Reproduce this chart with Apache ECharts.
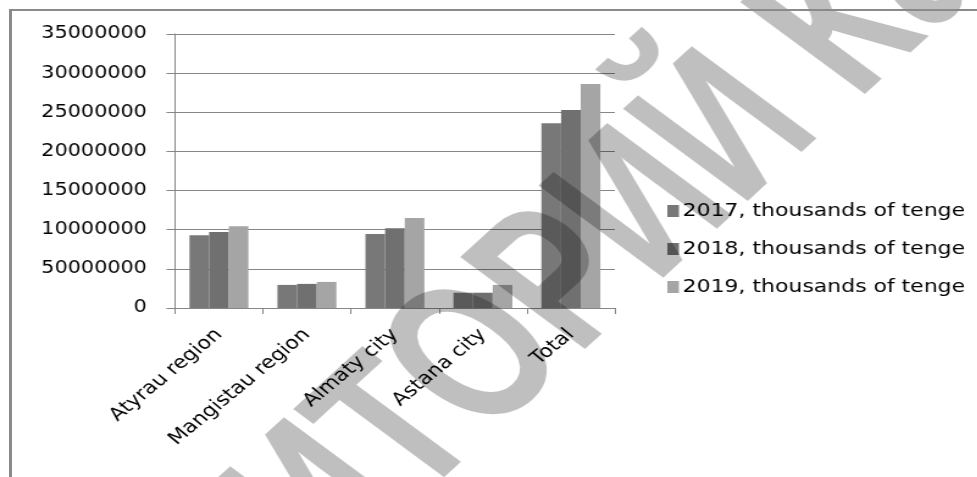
<!DOCTYPE html>
<html>
<head>
<meta charset="utf-8">
<script src="https://cdn.jsdelivr.net/npm/echarts@6/dist/echarts.min.js"></script>
<style>
  html, body { margin: 0; padding: 0; background: #ffffff; overflow: hidden; }
  #wrap { position: relative; width: 977px; height: 477px; overflow: hidden; }
  #chart { position: absolute; left: 0; top: 0; width: 801px; height: 477px; transform: scaleX(1.22); transform-origin: 0 0; }
  #overlay { position: absolute; left: 0; top: 0; width: 977px; height: 477px; pointer-events: none; }
</style>
</head>
<body>
<div id="wrap">
  <div id="chart"></div>
  <div id="overlay"></div>
</div>
<script>
// ---- data ----
const categories = ["Atyrau region", "Mangistau region", "Almaty city", "Astana city", "Total"];
const seriesNames = ["2017, thousands of tenge", "2018, thousands of tenge", "2019, thousands of tenge"];
const values2017 = [9300000, 2950000, 9450000, 1950000, 23600000];
const values2018 = [9700000, 3080000, 10200000, 1950000, 25300000];
const values2019 = [10450000, 3330000, 11500000, 2950000, 28600000];
const yTickValues = [0, 5000000, 10000000, 15000000, 20000000, 25000000, 30000000, 35000000];
// tick labels exactly as printed in the source (including its "50000000")
const yTickLabels = ["0", "50000000", "10000000", "15000000", "20000000", "25000000", "30000000", "35000000"];
const watermarkText = "РЕПОЗИТОРИЙ КазНУ";

const colors = ["#787878", "#707070", "#a5a5a5"];
const gridColor = "#868686";
const FONT = "DejaVu Sans";

const chart = echarts.init(document.getElementById('chart'), null, { renderer: 'canvas' });
const seriesData = [values2017, values2018, values2019];

chart.setOption({
  animation: false,
  backgroundColor: 'transparent',
  grid: { left: 143.4, right: 297, top: 34, bottom: 169, containLabel: false },
  legend: {
    orient: 'vertical',
    left: 542,
    top: 197,
    itemWidth: 9.5,
    itemHeight: 12,
    itemGap: 20,
    icon: 'rect',
    textStyle: { fontFamily: FONT, fontSize: 18, color: '#000', padding: [0, 0, 0, -2] },
    data: seriesNames
  },
  xAxis: {
    type: 'category',
    data: categories,
    axisLine: { show: false },
    axisTick: { show: true, length: 6, lineStyle: { color: gridColor } },
    axisLabel: {
      rotate: 45, margin: 24, interval: 0,
      fontFamily: FONT, fontSize: 18, color: '#000'
    },
    splitLine: { show: false }
  },
  yAxis: {
    type: 'value',
    min: yTickValues[0], max: yTickValues[yTickValues.length - 1],
    interval: yTickValues[1] - yTickValues[0],
    axisLine: { show: true, lineStyle: { color: gridColor } },
    axisTick: { show: true, length: 7, lineStyle: { color: gridColor } },
    axisLabel: {
      margin: 23, fontFamily: FONT, fontSize: 17, color: '#000',
      formatter: function (v) {
        const i = yTickValues.indexOf(v);
        return i >= 0 ? yTickLabels[i] : String(v);
      }
    },
    splitLine: { show: true, lineStyle: { color: gridColor, width: 1 } }
  },
  graphic: [
    {
      type: 'text',
      x: 426, y: 326,
      rotation: 48 * Math.PI / 180,
      scaleX: 0.72,
      silent: true,
      z: 100,
      style: {
        text: watermarkText,
        fontFamily: 'Liberation Sans',
        fontWeight: 'bold',
        fontSize: 200,
        fill: 'rgba(0,0,0,0.25)',
        align: 'center',
        verticalAlign: 'middle'
      }
    }
  ],
  series: seriesNames.map((name, i) => ({
    name: name,
    type: 'bar',
    data: seriesData[i],
    barGap: '0%',
    barCategoryGap: '33%',
    itemStyle: { color: colors[i] }
  }))
});

// overlay: page frame (not horizontally stretched)
const overlay = echarts.init(document.getElementById('overlay'), null, { renderer: 'canvas' });
overlay.setOption({
  animation: false,
  backgroundColor: 'transparent',
  graphic: [
    { type: 'rect', shape: { x: 9, y: 9, width: 3, height: 480 }, style: { fill: '#8a8a8a' }, silent: true },
    { type: 'rect', shape: { x: 9, y: 9, width: 980, height: 2 }, style: { fill: '#8a8a8a' }, silent: true }
  ]
});
</script>
</body>
</html>
